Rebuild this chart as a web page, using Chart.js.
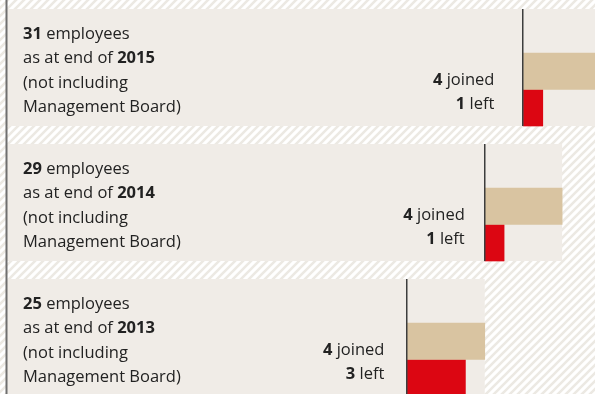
<!DOCTYPE html>
<html>
<head>
<meta charset="utf-8">
<script src="https://cdn.jsdelivr.net/npm/chart.js@4/dist/chart.umd.min.js"></script>
<style>
  html, body { margin: 0; padding: 0; background: #fff; overflow: hidden; }
  #wrap { width: 595px; height: 405px; }
</style>
</head>
<body>
<div id="wrap"><canvas id="chart" width="595" height="405"></canvas></div>
<script>
// Staff headcount per year (excluding the Management Board)
const years = ['2015', '2014', '2013'];
const employees = [31, 29, 25];
const joined = [4, 4, 4];
const leftCompany = [1, 1, 3];

const FONT = '"Open Sans", "Noto Sans", sans-serif';
const TEXT = '#222222';
const ROW = 135;          // height of one year row
const PANEL = 117;        // height of the shaded panel inside a row
const BAR = 36.5;         // thickness of the joined / left bars
const shift = (PANEL / 2 - BAR) / ROW;   // pushes the bar pair to the bottom of a panel

const rows = years.map((_, i) => i);

// draw a line of mixed regular / bold runs
function richText(ctx, runs, x, y, size, align) {
  const fontOf = b => `${b ? 700 : 400} ${size}px ${FONT}`;
  let total = 0;
  runs.forEach(([s, b]) => { ctx.font = fontOf(b); total += ctx.measureText(s).width; });
  let cx = align === 'right' ? x - total : x;
  ctx.textAlign = 'left';
  ctx.textBaseline = 'alphabetic';
  ctx.fillStyle = TEXT;
  runs.forEach(([s, b]) => {
    ctx.font = fontOf(b);
    ctx.fillText(s, cx, y);
    cx += ctx.measureText(s).width;
  });
}

const decorations = {
  id: 'decorations',
  beforeDraw(chart) {
    const { ctx, width, height } = chart;
    const tile = document.createElement('canvas');
    tile.width = tile.height = 8;
    const t = tile.getContext('2d');
    t.fillStyle = '#ffffff';
    t.fillRect(0, 0, 8, 8);
    t.strokeStyle = '#ece9e3';
    t.lineWidth = 2.6;
    t.beginPath();
    t.moveTo(-2, 10); t.lineTo(10, -2);
    t.moveTo(-6, 6); t.lineTo(6, -6);
    t.moveTo(2, 14); t.lineTo(14, 2);
    t.stroke();
    ctx.save();
    ctx.fillStyle = ctx.createPattern(tile, 'repeat');
    ctx.fillRect(0, 0, width, height);
    ctx.restore();
  },
  afterDatasetsDraw(chart, args, opts) {
    const { ctx, chartArea, scales } = chart;
    const panels = chart.getDatasetMeta(0).data;
    ctx.save();
    // left rule
    ctx.fillStyle = '#6f6f6f';
    ctx.fillRect(chartArea.left - 1.5, 0, 2, chart.height);
    panels.forEach((panel, i) => {
      const top = panel.y - panel.height / 2;
      const lx = scales.x.getPixelForValue(employees[i]);
      // marker for the year-end headcount
      ctx.fillStyle = '#3d3d3d';
      ctx.fillRect(Math.round(lx) - 1, top, 1.5, panel.height);
      // description
      const tx = chartArea.left + 16;
      richText(ctx, [[String(employees[i]), true], [' employees', false]], tx, top + 30, 16.5, 'left');
      richText(ctx, [['as at end of ', false], [years[i], true]], tx, top + 54.4, 16.5, 'left');
      richText(ctx, [['(not including', false]], tx, top + 78.8, 16.5, 'left');
      richText(ctx, [['Management Board)', false]], tx, top + 103.2, 16.5, 'left');
      // joined / left
      const rx = lx - opts.labelGap[i];
      richText(ctx, [[String(joined[i]), true], [' joined', false]], rx, top + 76, 16.5, 'right');
      richText(ctx, [[String(leftCompany[i]), true], [' left', false]], rx, top + 100.3, 16.5, 'right');
    });
    ctx.restore();
  }
};

new Chart(document.getElementById('chart'), {
  type: 'bar',
  data: {
    labels: years,
    datasets: [
      {
        label: 'headcount',
        data: years.map((_, i) => [0, employees[i] + joined[i]]),
        yAxisID: 'y',
        order: 10,
        grouped: false,
        categoryPercentage: 1,
        barPercentage: PANEL / ROW,
        backgroundColor: '#f0ece7',
        borderWidth: 0
      },
      {
        label: 'joined',
        data: rows.map(i => ({ y: i, x: [employees[i], employees[i] + joined[i]] })),
        yAxisID: 'yBars',
        order: 0,
        barThickness: BAR,
        backgroundColor: '#d9c4a1',
        borderWidth: 0
      },
      {
        label: 'left',
        data: rows.map(i => ({ y: i, x: [employees[i], employees[i] + leftCompany[i]] })),
        yAxisID: 'yBars',
        order: 0,
        barThickness: BAR,
        backgroundColor: '#dc0612',
        borderWidth: 0
      }
    ]
  },
  options: {
    indexAxis: 'y',
    responsive: false,
    animation: false,
    events: [],
    layout: { padding: { left: 7, right: 0, top: 0, bottom: 0 } },
    scales: {
      x: { type: 'linear', min: 4.3, max: 34.7, display: false },
      y: { type: 'category', display: false, offset: true },
      yBars: {
        type: 'linear', axis: 'y', display: false, reverse: true, offset: false,
        min: -0.5 - shift, max: rows.length - 0.5 - shift
      }
    },
    plugins: {
      legend: { display: false },
      tooltip: { enabled: false },
      decorations: { labelGap: [29, 20, 23] }
    }
  },
  plugins: [decorations]
});
</script>
</body>
</html>
